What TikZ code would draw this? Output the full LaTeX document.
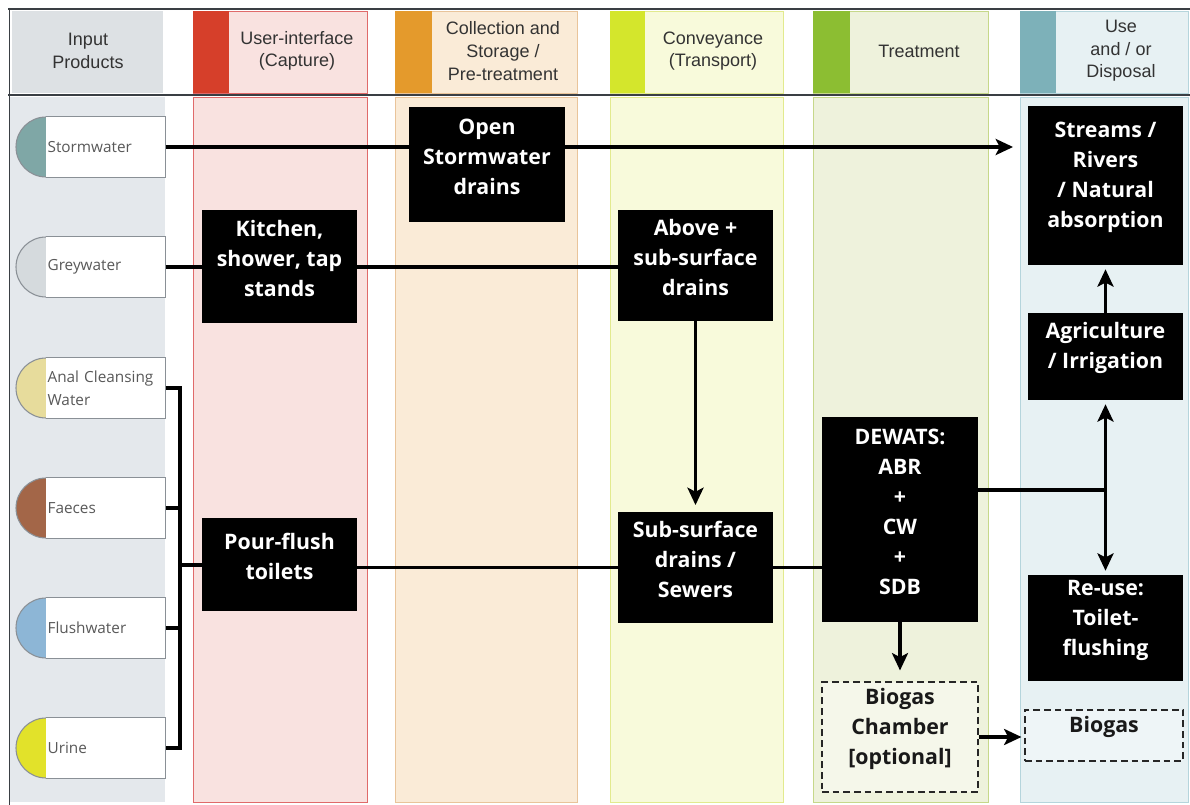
\documentclass[tikz,border=0pt]{standalone}
\usepackage{fontspec}
\setmainfont{Liberation Sans}
\newfontfamily\boxfont{Open Sans}
\usetikzlibrary{arrows.meta,fit}

\definecolor{inbg}{HTML}{E4E8EC}
\definecolor{inhd}{HTML}{DDE1E4}
\definecolor{uibg}{HTML}{F9E2E0}
\definecolor{uiln}{HTML}{E06A6A}
\definecolor{uist}{HTML}{D63F2A}
\definecolor{csbg}{HTML}{FAEBD7}
\definecolor{csln}{HTML}{E9C49A}
\definecolor{csst}{HTML}{E49A2C}
\definecolor{cvbg}{HTML}{F8FADB}
\definecolor{cvln}{HTML}{E2EA8E}
\definecolor{cvst}{HTML}{D4E62C}
\definecolor{trbg}{HTML}{EEF2DC}
\definecolor{trln}{HTML}{C6D88A}
\definecolor{trst}{HTML}{8CBE32}
\definecolor{usbg}{HTML}{E7F1F3}
\definecolor{usln}{HTML}{B5D5DC}
\definecolor{usst}{HTML}{7DB1B9}
\definecolor{framec}{HTML}{3A3F44}
\definecolor{tabln}{HTML}{8A9096}
\definecolor{stormc}{HTML}{7FA7A6}
\definecolor{greyc}{HTML}{D5DADD}
\definecolor{analc}{HTML}{E7DC9C}
\definecolor{faecc}{HTML}{A36648}
\definecolor{flushc}{HTML}{8DB6D6}
\definecolor{urinec}{HTML}{E2E22A}

% one input-product tab: name, y, colour, label
\newcommand\inputtab[4]{%
  \filldraw[fill=#3,draw=tabln,line width=0.8pt] (46,#2) circle[radius=22.5pt];
  \node[tab] (#1) at (46,#2) {#4};
  \draw[tabln,line width=0.8pt] (#1.north west) -- (#1.north east) -- (#1.south east) -- (#1.south west);
}

\begin{document}
\begin{tikzpicture}[x=0.75pt,y=-0.75pt,
  blk/.style={fill=black,text=white,font=\boxfont\bfseries\fontsize{16}{22.5}\selectfont,align=center,inner sep=0pt},
  dbox/.style={draw=black!85,dash pattern=on 5pt off 3pt,line width=1.3pt,text=black!90,
    font=\boxfont\bfseries\fontsize{16}{22.5}\selectfont,align=center,inner sep=0pt},
  hdr/.style={font=\fontsize{13.5}{17}\selectfont,text=black!80,align=center},
  tab/.style={fill=white,anchor=west,minimum height=45pt,minimum width=89.25pt,text width=87.25pt,
    inner xsep=1pt,inner ysep=0pt,align=left,font=\boxfont\fontsize{11.5}{17}\selectfont,text=black!65},
  conn/.style={line width=2.5pt,black},
  arr/.style={conn,-{Stealth[length=13pt,width=12pt,inset=3pt]}},
  darr/.style={conn,{Stealth[length=13pt,width=12pt,inset=3pt]}-{Stealth[length=13pt,width=12pt,inset=3pt]}}
]
\useasboundingbox (0,0) rectangle (1190,805);
\fill[white] (0,0) rectangle (1190,805);

% column bodies
\fill[inbg] (10,97) rectangle (165,802);
\filldraw[draw=uiln,line width=0.6pt,fill=uibg] (193,97) rectangle (367,802);
\filldraw[draw=csln,line width=0.6pt,fill=csbg] (395,97) rectangle (577,802);
\filldraw[draw=cvln,line width=0.6pt,fill=cvbg] (610,97) rectangle (783,802);
\filldraw[draw=trln,line width=0.6pt,fill=trbg] (813,97) rectangle (988,802);
\filldraw[draw=usln,line width=0.6pt,fill=usbg] (1020,97) rectangle (1188,802);

% header cells with coloured strips
\fill[inhd] (12,11) rectangle (163,93);
\filldraw[draw=uiln,line width=0.6pt,fill=uibg] (193,11) rectangle (367,93);
\fill[uist] (193,11) rectangle (229,93);
\filldraw[draw=csln,line width=0.6pt,fill=csbg] (395,11) rectangle (577,93);
\fill[csst] (395,11) rectangle (432,93);
\filldraw[draw=cvln,line width=0.6pt,fill=cvbg] (610,11) rectangle (783,93);
\fill[cvst] (610,11) rectangle (645,93);
\filldraw[draw=trln,line width=0.6pt,fill=trbg] (813,11) rectangle (988,93);
\fill[trst] (813,11) rectangle (850,93);
\filldraw[draw=usln,line width=0.6pt,fill=usbg] (1020,11) rectangle (1188,93);
\fill[usst] (1020,11) rectangle (1056,93);

\node[hdr] (hin) at (88,51) {Input\\Products};
\node[hdr] (hui) at (297,51) {User-interface\\(Capture)};
\node[hdr] (hcs) at (503,51) {Collection and\\Storage /\\Pre-treatment};
\node[hdr] (hcv) at (713,51) {Conveyance\\(Transport)};
\node[hdr] (htr) at (919,51) {Treatment};
\node[hdr] (hus) at (1121,51) {Use\\and / or\\Disposal};

% frame lines
\draw[framec,line width=2.2pt] (8,9) -- (1190,9);
\draw[framec,line width=2.2pt] (8,95) -- (1190,95);
\draw[framec,line width=1.4pt] (9.5,8) -- (9.5,805);

% input products
\inputtab{storm}{147}{stormc}{Stormwater}
\inputtab{grey}{267}{greyc}{Greywater}
\inputtab{acw}{388}{analc}{Anal Cleansing\\Water}
\inputtab{faeces}{508}{faecc}{Faeces}
\inputtab{flush}{628}{flushc}{Flushwater}
\inputtab{urine}{748}{urinec}{Urine}

% technology boxes
\node[blk,fit={(409,107) (565,222)}] (osd) {Open\\Stormwater\\drains};
\node[blk,fit={(202,210) (357,323)}] (kit) {Kitchen,\\shower, tap\\stands};
\node[blk,fit={(618,210) (773,321)}] (abv) {Above +\\sub-surface\\drains};
\node[blk,fit={(1028,106) (1183,265)}] (streams) {Streams /\\Rivers\\/ Natural\\absorption};
\node[blk,fit={(1028,313) (1183,400)}] (agri) {Agriculture\\/ Irrigation};
\node[blk,fit={(822,417) (978,622)}] (dew) {DEWATS:\\ABR\\+\\CW\\+\\SDB};
\node[blk,fit={(202,518) (357,611)}] (pour) {Pour-flush\\toilets};
\node[blk,fit={(618,512) (773,623)}] (sub) {Sub-surface\\drains /\\Sewers};
\node[blk,fit={(1028,575) (1183,681)}] (reuse) {Re-use:\\Toilet-\\flushing};
\node[dbox,fill=trbg!60!white,fit={(822,682) (978,792)}] (bch) {Biogas\\Chamber\\{[optional]}};
\node[dbox,fill=usbg!70!white,fit={(1025,710) (1183,761)}] (bg) {Biogas};

% connectors
\coordinate (bus) at (180,565);
\coordinate (jn) at (1105.5,490);
\draw[conn] (storm.east) -- (storm.east -| osd.west);
\draw[arr,shorten >=11pt] (osd.east |- storm.east) -- (storm.east -| streams.west);
\draw[conn] (grey.east) -- (grey.east -| kit.west);
\draw[conn] (kit.east |- grey.east) -- (grey.east -| abv.west);
\draw[arr,shorten >=5pt] (abv.south) -- (sub.north);
\draw[conn] (acw.east) -| (bus) |- (urine.east);
\draw[conn] (faeces.east) -- (faeces.east -| bus);
\draw[conn] (flush.east) -- (flush.east -| bus);
\draw[conn] (bus) -- (bus -| pour.west);
\draw[conn] (pour.east |- sub.west) -- (sub.west);
\draw[conn] (sub.east) -- (sub.east -| dew.west);
\draw[conn] (dew.east |- jn) -- (jn);
\draw[darr,shorten <=3pt,shorten >=3pt] (agri.south) -- (reuse.north);
\draw[arr,shorten >=3pt] (agri.north) -- (streams.south);
\draw[arr,shorten >=8pt] (dew.south) -- (bch.north);
\draw[arr,shorten >=2pt] (bch.east) -- (bch.east -| bg.west);
\end{tikzpicture}
\end{document}
